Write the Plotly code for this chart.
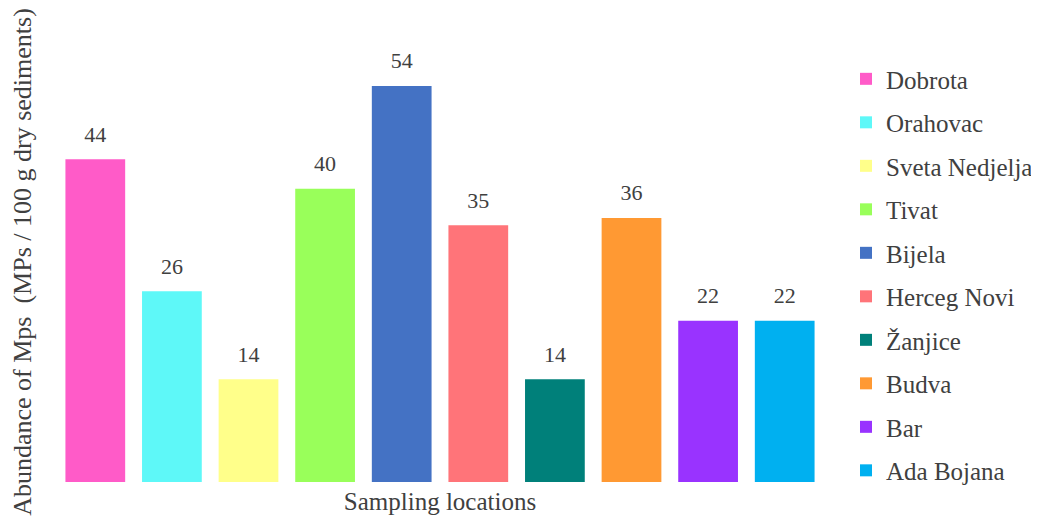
import plotly.graph_objects as go

locations = ["Dobrota", "Orahovac", "Sveta Nedjelja", "Tivat", "Bijela",
             "Herceg Novi", "Žanjice", "Budva", "Bar", "Ada Bojana"]
abundance = [44, 26, 14, 40, 54, 35, 14, 36, 22, 22]
colors = ["#FF5BC8", "#5EF8F8", "#FFFF8A", "#99FF5A", "#4472C4",
          "#FF7479", "#00807A", "#FF9933", "#9933FF", "#00B0F0"]

font_family = "Liberation Serif, Times New Roman, serif"
text_grey = "#404040"

fig = go.Figure()
for name, val, col in zip(locations, abundance, colors):
    fig.add_trace(go.Bar(
        x=[name], y=[val], name=name, legendgroup=name,
        marker=dict(color=col, line=dict(width=0)),
    ))

# value labels sit a bit higher above the bars than plotly's own outside text
fig.add_trace(go.Scatter(
    x=locations, y=abundance, mode="markers+text",
    text=[str(v) for v in abundance], textposition="top center",
    marker=dict(size=18, opacity=0),
    textfont=dict(size=22, color=text_grey, family=font_family),
    showlegend=False, hoverinfo="skip", cliponaxis=False,
))

# page body has an 8px margin, so the figure is sized to fit inside the window
fig.update_layout(
    width=1031, height=512,
    margin=dict(l=49, r=216, t=34, b=38, autoexpand=False),
    paper_bgcolor="white", plot_bgcolor="white",
    barmode="overlay", bargap=0.22,
    font=dict(family=font_family, color=text_grey),
    legend=dict(
        xref="container", x=0.8128, y=0.968, xanchor="left", yanchor="top",
        font=dict(size=25, color=text_grey),
        tracegroupgap=8, traceorder="grouped",
        itemwidth=30,
    ),
)
fig.update_xaxes(
    range=[-0.5, len(locations) - 0.5],
    showticklabels=False, showgrid=False, zeroline=False, showline=False,
    automargin=False,
    title=dict(text="Sampling locations", font=dict(size=25), standoff=10),
)
fig.update_yaxes(
    range=[0, 60], showticklabels=False, showgrid=False, zeroline=False, showline=False,
    automargin=False,
    title=dict(text="Abundance of Mps  (MPs / 100 g dry sediments)", font=dict(size=26), standoff=17),
)

fig.write_html("out.html")
